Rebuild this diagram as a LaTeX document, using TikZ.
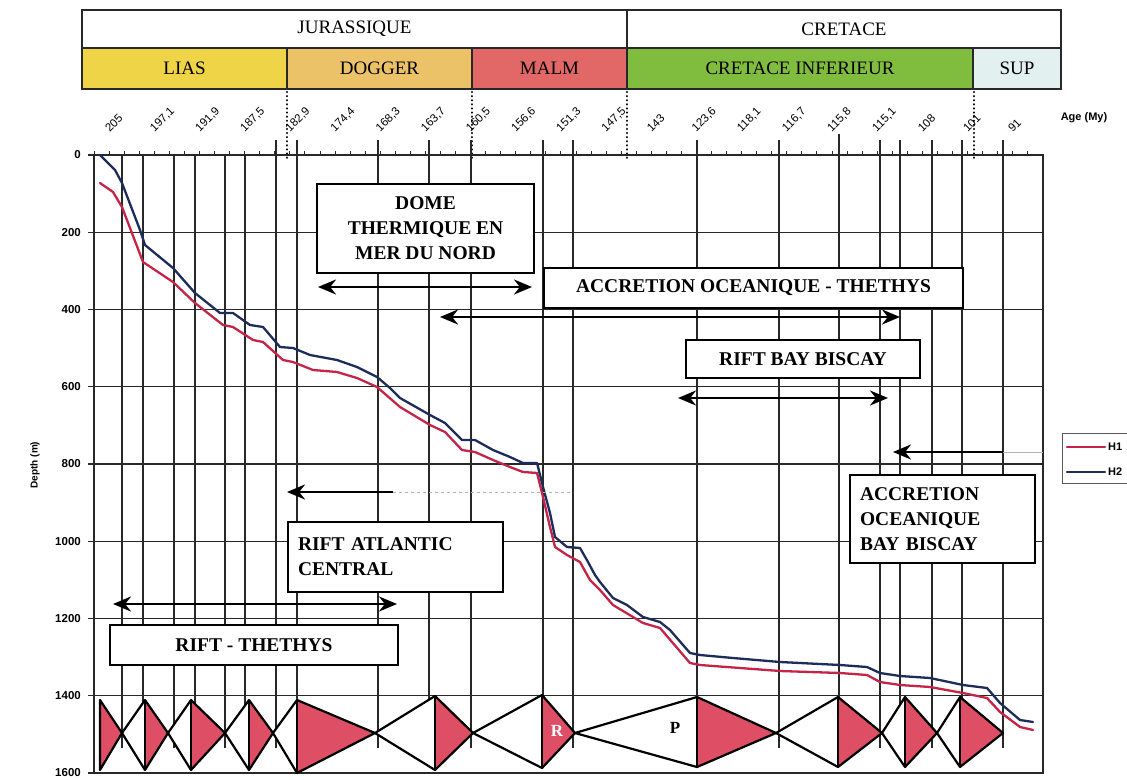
\documentclass[tikz,border=0pt]{standalone}
\usepackage{fontspec}
\setmainfont{Liberation Serif}
\setsansfont{Liberation Sans}
\usetikzlibrary{arrows.meta}
\definecolor{liasc}{RGB}{238,212,70}
\definecolor{doggerc}{RGB}{236,194,105}
\definecolor{malmc}{RGB}{226,104,104}
\definecolor{crinfc}{RGB}{128,188,62}
\definecolor{supc}{RGB}{226,240,240}
\definecolor{redtri}{RGB}{222,78,100}
\definecolor{hone}{RGB}{196,36,72}
\definecolor{htwo}{RGB}{30,44,92}
\definecolor{gridc}{RGB}{40,40,40}
\tikzset{
  hdr/.style={draw=gridc, line width=1.4pt, inner sep=0pt, outer sep=0pt, font=\fontsize{19}{22}\selectfont},
  tbox/.style={draw=black, fill=white, line width=2.6pt, inner sep=0pt, outer sep=0pt, font=\bfseries\fontsize{19.5}{25}\selectfont},
  gridline/.style={draw=gridc, line width=1.1pt},
  bigarrow/.style={line width=2.6pt, {Stealth[length=18pt,width=15pt]}-{Stealth[length=18pt,width=15pt]}},
  leftarrow/.style={line width=2.6pt, {Stealth[length=18pt,width=15pt]}-},
  faint/.style={draw=gray!60, line width=0.8pt},
  agelab/.style={font=\sffamily\fontsize{11.5}{12}\selectfont, rotate=45, anchor=west, inner sep=0pt},
  depthlab/.style={font=\sffamily\bfseries\fontsize{11.5}{12}\selectfont, anchor=east, inner sep=0pt},
  tri/.style={draw=black, line width=2.2pt, line join=round},
  hcurve/.style={line width=2.3pt, line join=round, line cap=round},
  sepdots/.style={draw=black, line width=2.4pt, dash pattern=on 0.1pt off 4pt, line cap=round}
}
\begin{document}
\begin{tikzpicture}[x=1pt,y=-1pt]
\useasboundingbox (0,0) rectangle (1127,779);
\clip (0,0) rectangle (1127,779);
\fill[white] (0,0) rectangle (1127,779);

% ---------- header ----------
\node[hdr, fill=white, minimum width=545pt, minimum height=38pt] (jura) at (354.5,29) {JURASSIQUE};
\node[hdr, fill=white, minimum width=434pt, minimum height=38pt] (cret) at (844,29) {CRETACE};
\node[hdr, fill=liasc, minimum width=205pt, minimum height=41pt] (lias) at (184.5,68.5) {LIAS};
\node[hdr, fill=doggerc, minimum width=185pt, minimum height=41pt] (dogger) at (379.5,68.5) {DOGGER};
\node[hdr, fill=malmc, minimum width=155pt, minimum height=41pt] (malm) at (549.5,68.5) {MALM};
\node[hdr, fill=crinfc, minimum width=346pt, minimum height=41pt] (crinf) at (800,68.5) {CRETACE INFERIEUR};
\node[hdr, fill=supc, minimum width=88pt, minimum height=41pt] (sup) at (1017,68.5) {SUP};

% dotted stage separators
\foreach \x in {287,472,627,974} \draw[sepdots] (\x,92) -- (\x,158);

% ---------- plot grid ----------
\foreach \d in {200,400,...,1400} \draw[gridline] (94,{155+\d*0.38625}) -- (1043,{155+\d*0.38625});
\foreach \x in {122,143,174,195,225,245} \draw[gridline] (\x,155) -- (\x,748);
\foreach \x in {276,297,378,429,471,543,573,697,779,880,900,932,962,1003} \draw[gridline] (\x,140) -- (\x,748);
\draw[gridline] (839,134) -- (839,748);
% frame
\draw[gridline, line width=1.4pt] (94,155) rectangle (1043,773);
% top axis minor ticks
\foreach \i in {0,...,62} \draw[gridline, line width=0.8pt] ({94+15.06*\i},155) -- ({94+15.06*\i},151);
% left axis ticks
\foreach \d in {0,200,...,1600} \draw[gridline] (88,{155+\d*0.38625}) -- (94,{155+\d*0.38625});

% depth labels
\foreach \d in {0,200,...,1600} \node[depthlab] (dl\d) at (81,{155+\d*0.38625}) {\d};
\node[font=\sffamily\bfseries\fontsize{10}{12}\selectfont, rotate=90] (depthtitle) at (35,465) {Depth (m)};

% age labels
\foreach \lab [count=\i from 0] in {205,{197,1},{191,9},{187,5},{182,9},{174,4},{168,3},{163,7},{160,5},{156,6},{151,3},{147,5},143,{123,6},{118,1},{116,7},{115,8},{115,1},108,101,91}
  \node[agelab] (age\i) at ({107+45.15*\i},130) {\lab};
\node[font=\sffamily\bfseries\fontsize{11}{12}\selectfont] (agetitle) at (1084,118) {Age (My)};

% ---------- curves ----------
\draw[hcurve, draw=hone] plot coordinates {(100,183) (113,192) (122,207) (143,262) (173,282) (195,303) (223,325) (233,327) (253,340) (263,342) (283,360) (293,362) (313,370) (337,372) (357,378) (377,387) (400,407) (430,425) (445,432) (462,450) (475,452) (493,460) (510,467) (523,472) (537,473) (543,497) (550,527) (555,547) (567,555) (580,562) (590,580) (600,590) (613,605) (643,623) (660,628) (690,663) (700,665) (780,671) (840,673) (867,675) (880,682) (900,685) (930,687) (963,693) (987,698) (1000,712) (1020,727) (1033,730)};
\draw[hcurve, draw=htwo] plot coordinates {(100,155) (115,170) (122,183) (140,230) (145,245) (173,268) (195,293) (220,313) (233,313) (250,325) (263,327) (280,347) (293,348) (310,355) (337,360) (357,367) (377,377) (390,388) (400,398) (430,415) (445,423) (462,440) (475,440) (493,450) (510,457) (523,463) (537,463) (543,487) (550,513) (555,537) (567,547) (580,548) (588,562) (595,575) (600,582) (613,598) (627,605) (643,617) (660,622) (670,630) (690,653) (700,655) (733,658) (780,662) (840,665) (867,667) (880,673) (900,676) (930,678) (963,685) (987,688) (1000,703) (1020,720) (1033,722)};

% ---------- triangles ----------
\foreach \L/\B/\R/\T/\Bo in {100/100/122/700/770, 122/145/168/700/770, 168/191/225/700/770, 225/249/273/700/770, 273/297/375/700/773, 375/435/473/696/770, 473/542/575/695/768, 575/697/776/697/767, 776/838/882/697/767, 882/905/937/697/767, 937/960/1003/697/767}{
  \fill[white] (\L,733) -- (\B,\T) -- (\B,\Bo) -- cycle;
  \fill[redtri] (\B,\T) -- (\R,733) -- (\B,\Bo) -- cycle;
  \draw[tri] (\L,733) -- (\B,\T) -- (\R,733) -- (\B,\Bo) -- cycle;
  \draw[tri] (\B,\T) -- (\B,\Bo);
}
\node[font=\bfseries\fontsize{17}{20}\selectfont, text=white] (rlab) at (557,731) {R};
\node[font=\bfseries\fontsize{17}{20}\selectfont] (plab) at (675,728) {P};

% ---------- text boxes ----------
\node[tbox, minimum width=217pt, minimum height=89pt, align=center] (dome) at (425.5,228.5) {DOME\\THERMIQUE EN\\MER DU NORD};
\node[tbox, minimum width=419pt, minimum height=40pt] (accth) at (753.5,288) {ACCRETION OCEANIQUE - THETHYS};
\node[tbox, minimum width=234pt, minimum height=38pt] (rbb) at (803,359) {RIFT BAY BISCAY};
\node[tbox, minimum width=185pt, minimum height=88pt, align=left, text width=165pt] (abb) at (942.5,519) {ACCRETION\\OCEANIQUE\\BAY BISCAY};
\node[tbox, minimum width=215pt, minimum height=70pt, align=left, text width=195pt] (rac) at (395.5,557) {RIFT ATLANTIC\\CENTRAL};
\node[tbox, minimum width=288pt, minimum height=40pt] (rth) at (254,645) {RIFT - THETHYS};

% ---------- arrows ----------
\coordinate (a1l) at (318,287); \coordinate (a1r) at (532,287);
\coordinate (a2l) at (440,317); \coordinate (a2r) at (900,317);
\coordinate (a3l) at (678,398); \coordinate (a3r) at (888,398);
\coordinate (a4t) at (893,452); \coordinate (a4s) at (1003,452); \coordinate (a4e) at (1043,452);
\coordinate (a5t) at (287,492); \coordinate (a5s) at (393,492); \coordinate (a5e) at (573,492);
\coordinate (a6l) at (113,604); \coordinate (a6r) at (397,604);
\draw[faint] (a4s) -- (a4e);
\draw[faint, dashed] (a5s) -- (a5e);
\draw[bigarrow] (a1l) -- (a1r);
\draw[bigarrow] (a2l) -- (a2r);
\draw[bigarrow] (a3l) -- (a3r);
\draw[leftarrow] (a4t) -- (a4s);
\draw[leftarrow] (a5t) -- (a5s);
\draw[bigarrow] (a6l) -- (a6r);

% ---------- legend ----------
\draw[draw=gray!70!black, line width=1pt] (1062,433) rectangle (1140,483);
\coordinate (l1a) at (1067,447); \coordinate (l1b) at (1105,447);
\coordinate (l2a) at (1067,472); \coordinate (l2b) at (1105,472);
\draw[hcurve, draw=hone] (l1a) -- (l1b);
\draw[hcurve, draw=htwo] (l2a) -- (l2b);
\node[font=\sffamily\bfseries\fontsize{11}{12}\selectfont, anchor=west, inner sep=0pt] (h1lab) at (1108,447) {H1};
\node[font=\sffamily\bfseries\fontsize{11}{12}\selectfont, anchor=west, inner sep=0pt] (h2lab) at (1108,472) {H2};
\end{tikzpicture}
\end{document}
